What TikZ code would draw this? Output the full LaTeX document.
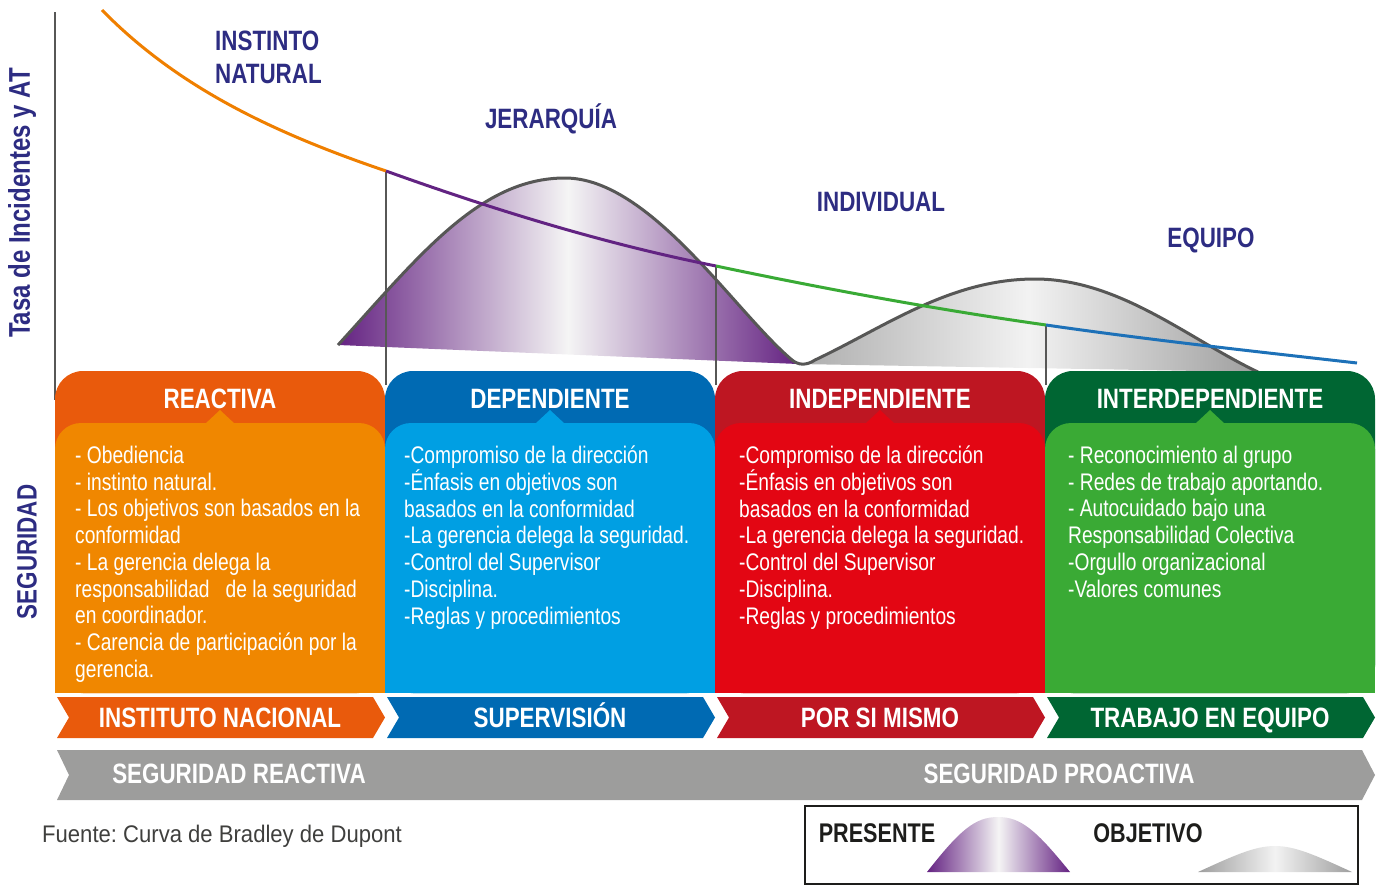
\documentclass[tikz,border=0pt]{standalone}
\usepackage{fontspec}
\setmainfont{Liberation Sans}
\newfontfamily\narrowfont{Liberation Sans}[FakeStretch=0.8]
\newfontfamily\notefont{Liberation Sans}[FakeStretch=0.92]
\frenchspacing

\definecolor{navy}{RGB}{45,44,130}
\definecolor{oraHead}{RGB}{233,90,12}
\definecolor{oraBody}{RGB}{240,135,0}
\definecolor{bluHead}{RGB}{0,106,179}
\definecolor{bluBody}{RGB}{0,159,227}
\definecolor{redHead}{RGB}{190,22,34}
\definecolor{redBody}{RGB}{227,6,19}
\definecolor{grnHead}{RGB}{0,102,51}
\definecolor{grnBody}{RGB}{58,170,53}
\definecolor{bandGray}{RGB}{157,157,156}
\definecolor{lineGray}{RGB}{87,87,86}
\definecolor{bellPurple}{RGB}{100,34,130}
\definecolor{bellGray}{RGB}{158,158,158}
\definecolor{curveOrange}{RGB}{239,127,0}
\definecolor{curvePurple}{RGB}{98,35,130}
\definecolor{curveGreen}{RGB}{57,170,53}
\definecolor{curveBlue}{RGB}{29,113,184}
\definecolor{inkBlack}{RGB}{29,29,27}

\tikzset{
  stagelabel/.style={text=navy, font=\narrowfont\bfseries\fontsize{28}{33}\selectfont, inner sep=0pt, anchor=base},
  boxtitle/.style={text=white, font=\narrowfont\bfseries\fontsize{28}{33}\selectfont, inner sep=0pt, anchor=base},
  bodytext/.style={text=white, font=\narrowfont\fontsize{24}{26.7}\selectfont, align=left, anchor=north west, inner sep=0pt},
  rateline/.style={line width=3pt},
  bellline/.style={lineGray, line width=3pt},
  guide/.style={lineGray, line width=2pt}
}

\begin{document}
\begin{tikzpicture}[x=1pt,y=-1pt]

  \useasboundingbox (0,0) rectangle (1379,886);

  \coordinate (c0) at (102,10);
  \coordinate (k1) at (386,171);
  \coordinate (k2) at (716,266);
  \coordinate (k3) at (1046,325);
  \coordinate (c4) at (1357,363);

  \draw[lineGray, line width=2.5pt] (55,12) -- (55,400);

  \shade[left color=bellPurple, right color=bellPurple, middle color=white!96!black]
    (338,345) .. controls (420,255) and (480,178) .. (565,178)
    .. controls (650,178) and (735,312) .. (792,360) -- (798,364) -- cycle;
  \shade[left color=bellGray!85, right color=bellGray, middle color=white!95!black]
    (798,364) .. controls (804,366) and (808,364) .. (815,360)
    .. controls (885,327) and (950,279) .. (1035,279)
    .. controls (1120,279) and (1190,340) .. (1258,372) -- cycle;
  \draw[bellline] (338,345) .. controls (420,255) and (480,178) .. (565,178)
    .. controls (650,178) and (735,312) .. (792,360)
    .. controls (798,365) and (806,366) .. (815,360)
    .. controls (885,327) and (950,279) .. (1035,279)
    .. controls (1120,279) and (1190,340) .. (1258,372);

  \draw[guide] (k1) -- (386,385);
  \draw[guide] (k2) -- (716,385);
  \draw[guide] (k3) -- (1046,385);

  \draw[rateline, curveOrange] (c0) .. controls (180,90) and (280,135) .. (k1);
  \draw[rateline, curvePurple] (k1) .. controls (500,212) and (610,245) .. (k2);
  \draw[rateline, curveGreen] (k2) .. controls (830,290) and (940,310) .. (k3);
  \draw[rateline, curveBlue] (k3) .. controls (1150,340) and (1260,352) .. (c4);

  \foreach \i/\hd/\bd/\ttl/\lbl in {0/oraHead/oraBody/REACTIVA/INSTITUTO NACIONAL,
    1/bluHead/bluBody/DEPENDIENTE/SUPERVISIÓN,
    2/redHead/redBody/INDEPENDIENTE/POR SI MISMO,
    3/grnHead/grnBody/INTERDEPENDIENTE/TRABAJO EN EQUIPO}
  {
    \pgfmathtruncatemacro\xl{55+330*\i}
    \pgfmathtruncatemacro\xr{\xl+330}
    \pgfmathtruncatemacro\xm{\xl+165}
    \fill[\hd, rounded corners=28pt] (\xl,371) rectangle (\xr,693);
    \fill[\bd, rounded corners=26pt] (\xl,423) rectangle (\xr,693);
    \fill[\bd] (\xl,470) rectangle (\xr,693);
    \fill[\bd] (\xm-15,424) -- (\xm,410) -- (\xm+15,424) -- cycle;
    \fill[\hd] (\xl+2,697) -- (\xl+318,697) -- (\xl+330,717.5) -- (\xl+318,738)
      -- (\xl+2,738) -- (\xl+14,717.5) -- cycle;
    \node[boxtitle] (title\i) at (\xm,408) {\ttl};
    \node[boxtitle] (stage\i) at (\xm,727.5) {\lbl};
  }

  \fill[bandGray] (57,750) -- (1362,750) -- (1375,775) -- (1362,800) -- (57,800)
    -- (69,775) -- cycle;
  \node[boxtitle] (reactiva) at (239,783) {SEGURIDAD REACTIVA};
  \node[boxtitle] (proactiva) at (1059,783) {SEGURIDAD PROACTIVA};

  \node[bodytext] (bodyA) at (75,446) {- Obediencia\\- instinto natural.\\- Los objetivos son basados en la\\conformidad\\- La gerencia delega la\\responsabilidad\ \ \ de la seguridad\\en coordinador.\\- Carencia de participación por la\\gerencia.};
  \node[bodytext] (bodyB) at (404,446) {-Compromiso de la dirección\\-Énfasis en objetivos son\\basados en la conformidad\\-La gerencia delega la seguridad.\\-Control del Supervisor\\-Disciplina.\\-Reglas y procedimientos};
  \node[bodytext] (bodyC) at (739,446) {-Compromiso de la dirección\\-Énfasis en objetivos son\\basados en la conformidad\\-La gerencia delega la seguridad.\\-Control del Supervisor\\-Disciplina.\\-Reglas y procedimientos};
  \node[bodytext] (bodyD) at (1068,446) {- Reconocimiento al grupo\\- Redes de trabajo aportando.\\- Autocuidado bajo una\\Responsabilidad Colectiva\\-Orgullo organizacional\\-Valores comunes};

  \node[stagelabel, anchor=base west] (instinto) at (215,50) {INSTINTO};
  \node[stagelabel, anchor=base west] (natural) at (215,83) {NATURAL};
  \node[stagelabel] (jerarquia) at (551,128) {JERARQUÍA};
  \node[stagelabel] (individual) at (881,211) {INDIVIDUAL};
  \node[stagelabel] (equipo) at (1211,247) {EQUIPO};

  \node[stagelabel, anchor=center, rotate=90, font=\narrowfont\bfseries\fontsize{30}{34}\selectfont] (tasa) at (22,203) {Tasa de Incidentes y AT};
  \node[stagelabel, anchor=center, rotate=90] (seguridad) at (27,552) {SEGURIDAD};

  \node[anchor=base west, text=inkBlack!85, font=\notefont\fontsize{24}{28}\selectfont, inner sep=0pt] (fuente) at (42,842) {Fuente: Curva de Bradley de Dupont};

  \draw[inkBlack, line width=2.5pt] (805,806) rectangle (1358,884);
  \node[stagelabel, text=inkBlack, font=\narrowfont\bfseries\fontsize{27}{32}\selectfont] (presente) at (877,842) {PRESENTE};
  \node[stagelabel, text=inkBlack, font=\narrowfont\bfseries\fontsize{27}{32}\selectfont] (objetivo) at (1148,842) {OBJETIVO};
  \shade[left color=bellPurple, right color=bellPurple, middle color=white!96!black]
    (927,872) .. controls (960,830) and (975,817) .. (998,817)
    .. controls (1021,817) and (1036,830) .. (1070,872) -- cycle;
  \shade[left color=bellGray, right color=bellGray, middle color=white!95!black]
    (1198,872) .. controls (1235,855) and (1255,846) .. (1275,846)
    .. controls (1295,846) and (1315,855) .. (1352,872) -- cycle;

\end{tikzpicture}
\end{document}
